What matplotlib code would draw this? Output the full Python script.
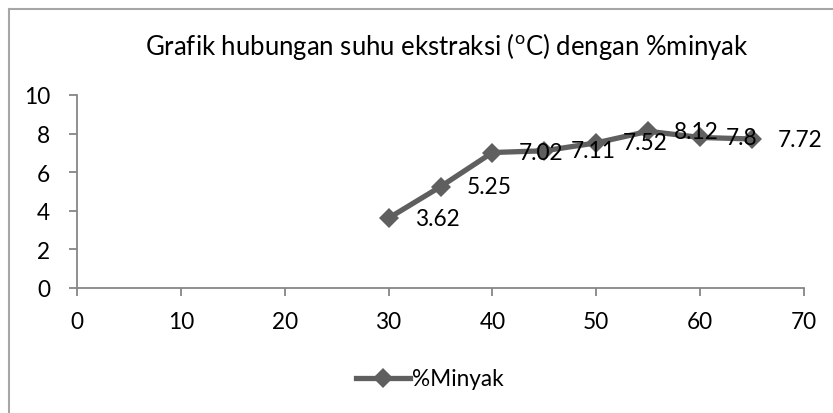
import matplotlib
matplotlib.use("Agg")
import matplotlib.pyplot as plt
from matplotlib.lines import Line2D

suhu = [30, 35, 40, 45, 50, 55, 60, 65]
minyak = [3.62, 5.25, 7.02, 7.11, 7.52, 8.12, 7.8, 7.72]
label_text = ["3.62", "5.25", "7.02", "7.11", "7.52", "8.12", "7.8", "7.72"]
x_ticks = [0, 10, 20, 30, 40, 50, 60, 70]
y_ticks = [0, 2, 4, 6, 8, 10]
series_name = "%Minyak"
title = "Grafik hubungan suhu ekstraksi ($^{\\mathrm{o}}$C) dengan %minyak"

plt.rcParams['font.family'] = ['Lato', 'DejaVu Sans']
plt.rcParams['mathtext.fontset'] = 'custom'
plt.rcParams['mathtext.rm'] = 'Lato'

W, H = 833, 414
fig = plt.figure(figsize=(W / 100, H / 100), dpi=100)
ax = fig.add_axes([77 / W, 1 - 289 / H, (804 - 77) / W, (289 - 96) / H])

line_color = '#5f5f5f'
axis_color = '#868686'
fs = 16.3

ax.plot(suhu, minyak, color=line_color, lw=3.8, marker='D', ms=10,
        markeredgewidth=0, solid_joinstyle='miter', label=series_name, clip_on=False)

for x, y, t in zip(suhu, minyak, label_text):
    ax.annotate(t, (x, y), xytext=(26, 0), textcoords='offset pixels',
                ha='left', va='center', fontsize=fs, color='black')

ax.set_xlim(0, 70)
ax.set_ylim(0, 10)
ax.set_xticks(x_ticks)
ax.set_yticks(y_ticks)
ax.set_xticklabels([str(v) for v in x_ticks])
ax.set_yticklabels([str(v) for v in y_ticks])
for s in ['top', 'right']:
    ax.spines[s].set_visible(False)
for s in ['left', 'bottom']:
    ax.spines[s].set_color(axis_color)
    ax.spines[s].set_linewidth(1.3)
ax.tick_params(axis='both', colors=axis_color, labelcolor='black', labelsize=fs,
               length=5.5, width=1.3, pad=11)
ax.tick_params(axis='y', pad=14)

fig.text(447 / W, 1 - 47 / H, title, ha='center', va='center', fontsize=18.5)

handle = Line2D([], [], color=line_color, lw=3.8, marker='D', ms=10, markeredgewidth=0)
fig.legend([handle], [series_name], loc='center', bbox_to_anchor=(430 / W, 1 - 380 / H),
           frameon=False, fontsize=fs, handlelength=2.4, handletextpad=0.1)

# outer chart frame
border = '#a6a6a6'
fig.add_artist(Line2D([8.5 / W, 8.5 / W], [0, 1 - 9.5 / H], color=border, lw=1.5,
                      transform=fig.transFigure))
fig.add_artist(Line2D([8.5 / W, 1], [1 - 9.5 / H, 1 - 9.5 / H], color=border, lw=1.5,
                      transform=fig.transFigure))

fig.savefig('out.png', dpi=100)
